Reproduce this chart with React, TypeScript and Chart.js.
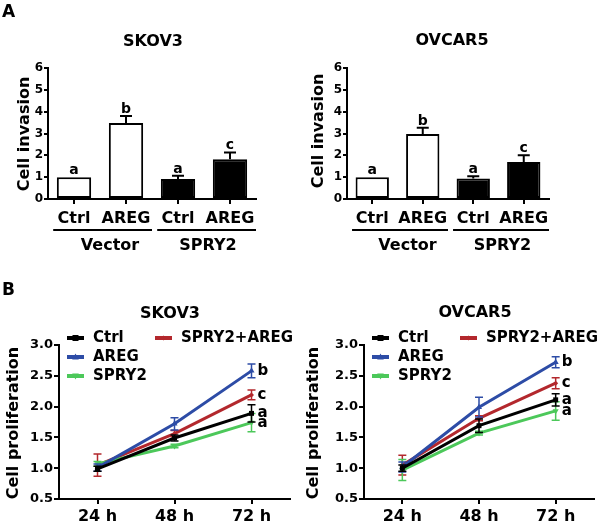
import React, { useEffect, useRef } from 'react';
import { Chart, registerables } from 'chart.js';
Chart.register(...registerables);

const FONT = '"DejaVu Sans", "Liberation Sans", sans-serif';

// ---------- Panel A: cell invasion ----------
const invasionCategories = ['Ctrl', 'AREG', 'Ctrl', 'AREG'];
const invasionGroups = ['Vector', 'SPRY2'];
const invasionMin = 0;
const invasionMax = 6;
const skov3Invasion = [1.0, 3.48, 0.92, 1.82];
const skov3InvasionErr = [0, 0.32, 0.15, 0.31];
const skov3InvasionSig = ['a', 'b', 'a', 'c'];
const ovcar5Invasion = [1.0, 2.98, 0.94, 1.7];
const ovcar5InvasionErr = [0, 0.28, 0.1, 0.3];
const ovcar5InvasionSig = ['a', 'b', 'a', 'c'];

// ---------- Panel B: cell proliferation ----------
const timeLabels = ['24 h', '48 h', '72 h'];
const seriesNames = ['Ctrl', 'AREG', 'SPRY2', 'SPRY2+AREG'];
const proliferationMin = 0.5;
const proliferationMax = 3.0;

const skov3Ctrl = [0.99, 1.49, 1.89];
const skov3Areg = [1.01, 1.72, 2.58];
const skov3Spry2 = [1.07, 1.36, 1.74];
const skov3Spry2Areg = [1.05, 1.56, 2.19];
const skov3CtrlErr = [0.04, 0.05, 0.14];
const skov3AregErr = [0.06, 0.1, 0.11];
const skov3Spry2Err = [0.04, 0.03, 0.15];
const skov3Spry2AregErr = [0.18, 0.05, 0.08];
const skov3ProlifSig = ['a', 'b', 'a', 'c'];

const ovcar5Ctrl = [1.0, 1.69, 2.11];
const ovcar5Areg = [1.02, 1.99, 2.72];
const ovcar5Spry2 = [0.97, 1.57, 1.93];
const ovcar5Spry2Areg = [1.05, 1.81, 2.38];
const ovcar5CtrlErr = [0.05, 0.11, 0.1];
const ovcar5AregErr = [0.08, 0.16, 0.09];
const ovcar5Spry2Err = [0.17, 0.03, 0.15];
const ovcar5Spry2AregErr = [0.16, 0.04, 0.09];
const ovcar5ProlifSig = ['a', 'b', 'a', 'c'];

const seriesColors = ['#000000', '#2d4ca6', '#4cc85a', '#b3282d'];
const seriesMarkers = ['rect', 'triangle', 'triangleDown', 'diamond'];

function drawText(ctx: any, s: string, x: number, y: number, font: string, align: string = 'center', base: string = 'middle', rot = 0) {
  ctx.save();
  ctx.font = font;
  ctx.fillStyle = '#000';
  ctx.textAlign = align;
  ctx.textBaseline = base;
  ctx.translate(x, y);
  if (rot) ctx.rotate(rot);
  ctx.fillText(s, 0, 0);
  ctx.restore();
}

function drawMarker(ctx: any, kind: string, x: number, y: number, r: number, color: string) {
  ctx.save();
  ctx.fillStyle = color;
  ctx.beginPath();
  if (kind === 'rect') {
    ctx.rect(x - r, y - r, 2 * r, 2 * r);
  } else if (kind === 'triangle') {
    ctx.moveTo(x, y - r * 1.2);
    ctx.lineTo(x + r * 1.1, y + r * 0.8);
    ctx.lineTo(x - r * 1.1, y + r * 0.8);
    ctx.closePath();
  } else if (kind === 'triangleDown') {
    ctx.moveTo(x, y + r * 1.2);
    ctx.lineTo(x + r * 1.1, y - r * 0.8);
    ctx.lineTo(x - r * 1.1, y - r * 0.8);
    ctx.closePath();
  } else {
    ctx.moveTo(x, y - r);
    ctx.lineTo(x + r, y);
    ctx.lineTo(x, y + r);
    ctx.lineTo(x - r, y);
    ctx.closePath();
  }
  ctx.fill();
  ctx.restore();
}

function barConfig(p: any) {
  const annot = {
    id: 'barAnnot',
    afterDatasetsDraw(chart: any) {
      const ctx = chart.ctx;
      const ys = chart.scales.y;
      const meta = chart.getDatasetMeta(0);
      ctx.save();
      ctx.strokeStyle = '#000';
      ctx.lineWidth = 2;
      meta.data.forEach((bar: any, i: number) => {
        const top = ys.getPixelForValue(p.values[i]);
        const errTop = ys.getPixelForValue(p.values[i] + p.errs[i]);
        if (p.errs[i] > 0) {
          ctx.beginPath();
          ctx.moveTo(bar.x, top);
          ctx.lineTo(bar.x, errTop);
          ctx.moveTo(bar.x - 6, errTop);
          ctx.lineTo(bar.x + 6, errTop);
          ctx.stroke();
        }
        drawText(ctx, p.sigs[i], bar.x, errTop - 3, `bold 14px ${FONT}`, 'center', 'alphabetic');
      });
      ctx.restore();
    },
    afterDraw(chart: any) {
      const ctx = chart.ctx;
      const meta = chart.getDatasetMeta(0);
      const cs = meta.data.map((b: any) => b.x);
      const s = cs[1] - cs[0];
      drawText(ctx, p.title, p.titleX, p.titleY, `bold 16px ${FONT}`);
      drawText(ctx, p.yLabel, p.yLabelX, p.yLabelY, `bold 16px ${FONT}`, 'center', 'middle', -Math.PI / 2);
      ctx.save();
      ctx.strokeStyle = '#000';
      ctx.lineWidth = 2;
      ctx.beginPath();
      ctx.moveTo(cs[0] - 0.4 * s, 230);
      ctx.lineTo(cs[1] + 0.5 * s, 230);
      ctx.moveTo(cs[2] - 0.4 * s, 230);
      ctx.lineTo(cs[3] + 0.5 * s, 230);
      ctx.stroke();
      ctx.restore();
      drawText(ctx, invasionGroups[0], (cs[0] + cs[1]) / 2 + 10, 245.5, `bold 16px ${FONT}`);
      drawText(ctx, invasionGroups[1], (cs[2] + cs[3]) / 2 + 4, 245.5, `bold 16px ${FONT}`);
      if (p.letter) drawText(ctx, p.letter, 2, 17, `bold 17px ${FONT}`, 'left', 'alphabetic');
    },
  };
  return {
    type: 'bar',
    data: {
      labels: invasionCategories,
      datasets: [
        {
          data: p.values,
          backgroundColor: ['#ffffff', '#ffffff', '#000000', '#000000'],
          borderColor: '#000',
          borderWidth: 2,
          borderSkipped: false,
          barPercentage: 0.66,
          categoryPercentage: 1,
        },
      ],
    },
    options: {
      animation: false,
      responsive: false,
      devicePixelRatio: 1,
      layout: { padding: { left: 0, right: p.padRight, top: 68, bottom: 0 } },
      plugins: { legend: { display: false }, tooltip: { enabled: false }, title: { display: false } },
      scales: {
        x: {
          offset: true,
          grid: { display: true, offset: false, drawOnChartArea: false, drawTicks: true, tickLength: 5, color: '#000', lineWidth: 2 },
          border: { display: true, color: '#000', width: 2 },
          ticks: { font: { family: FONT, weight: 'bold', size: 16 }, color: '#000', padding: 5, maxRotation: 0, autoSkip: false },
          afterFit: (sc: any) => { sc.height = 66; },
        },
        y: {
          min: invasionMin,
          max: invasionMax,
          ticks: { stepSize: 1, font: { family: FONT, weight: 'bold', size: 12 }, color: '#000', padding: 1 },
          grid: { display: true, drawOnChartArea: false, drawTicks: true, tickLength: 4, color: '#000', lineWidth: 2 },
          border: { display: true, color: '#000', width: 2 },
          afterFit: (sc: any) => { sc.width = p.yWidth; },
        },
      },
    },
    plugins: [annot],
  };
}

function lineConfig(p: any) {
  const annot = {
    id: 'lineAnnot',
    afterDatasetDraw(chart: any, args: any) {
      const ctx = chart.ctx;
      const ys = chart.scales.y;
      const d = args.index;
      const vals = p.series[d];
      const errs = p.errs[d];
      ctx.save();
      ctx.strokeStyle = seriesColors[d];
      ctx.lineWidth = 1.5;
      args.meta.data.forEach((pt: any, i: number) => {
        const yT = ys.getPixelForValue(vals[i] + errs[i]);
        const yB = ys.getPixelForValue(vals[i] - errs[i]);
        ctx.beginPath();
        ctx.moveTo(pt.x, yT);
        ctx.lineTo(pt.x, yB);
        ctx.moveTo(pt.x - 4, yT);
        ctx.lineTo(pt.x + 4, yT);
        ctx.moveTo(pt.x - 4, yB);
        ctx.lineTo(pt.x + 4, yB);
        ctx.stroke();
      });
      ctx.restore();
      const last = args.meta.data[args.meta.data.length - 1];
      drawText(ctx, p.sigs[d], last.x + 6, ys.getPixelForValue(vals[vals.length - 1]), `bold 15px ${FONT}`, 'left', 'middle');
    },
    afterDraw(chart: any) {
      const ctx = chart.ctx;
      const ca = chart.chartArea;
      drawText(ctx, p.title, p.titleX, p.titleY, `bold 16px ${FONT}`);
      drawText(ctx, 'Cell proliferation', p.yLabelX, p.yLabelY, `bold 16px ${FONT}`, 'center', 'middle', -Math.PI / 2);
      const rows = [ca.top - 7, ca.top + 12, ca.top + 31];
      const pos = [
        { x: ca.left + 8, y: rows[0] },
        { x: ca.left + 8, y: rows[1] },
        { x: ca.left + 8, y: rows[2] },
        { x: ca.left + 96, y: rows[0] },
      ];
      seriesNames.forEach((name, i) => {
        const { x, y } = pos[i];
        ctx.save();
        ctx.strokeStyle = seriesColors[i];
        ctx.lineWidth = 4;
        ctx.beginPath();
        ctx.moveTo(x, y);
        ctx.lineTo(x + 17, y);
        ctx.stroke();
        ctx.restore();
        drawMarker(ctx, seriesMarkers[i], x + 8.5, y, i === 3 ? 2.5 : 3, seriesColors[i]);
        drawText(ctx, name, x + 26, y, `bold 15px ${FONT}`, 'left', 'middle');
      });
      if (p.letter) drawText(ctx, p.letter, 2, 30, `bold 17px ${FONT}`, 'left', 'alphabetic');
    },
  };
  const pointStyles = ['rect', 'triangle', 'triangle', 'rectRot'];
  const rotations = [0, 0, 180, 0];
  return {
    type: 'line',
    data: {
      labels: timeLabels,
      datasets: p.series.map((vals: number[], i: number) => ({
        label: seriesNames[i],
        data: vals,
        borderColor: seriesColors[i],
        backgroundColor: seriesColors[i],
        borderWidth: 3,
        pointStyle: pointStyles[i],
        rotation: rotations[i],
        pointRadius: i === 3 ? 2.5 : 3.5,
        pointBorderWidth: 0,
        tension: 0,
        fill: false,
      })),
    },
    options: {
      animation: false,
      responsive: false,
      devicePixelRatio: 1,
      layout: { padding: { left: 0, right: p.padRight, top: 80, bottom: 0 } },
      plugins: { legend: { display: false }, tooltip: { enabled: false }, title: { display: false } },
      scales: {
        x: {
          offset: true,
          grid: { display: true, offset: false, drawOnChartArea: false, drawTicks: true, tickLength: 5, color: '#000', lineWidth: 2 },
          border: { display: true, color: '#000', width: 2 },
          ticks: { font: { family: FONT, weight: 'bold', size: 16 }, color: '#000', padding: 3, maxRotation: 0, autoSkip: false },
          afterFit: (sc: any) => { sc.height = 28; },
        },
        y: {
          min: proliferationMin,
          max: proliferationMax,
          ticks: {
            stepSize: 0.5,
            font: { family: FONT, weight: 'bold', size: 13 },
            color: '#000',
            padding: 1,
            callback: (v: any) => Number(v).toFixed(1),
          },
          grid: { display: true, drawOnChartArea: false, drawTicks: true, tickLength: 5, color: '#000', lineWidth: 2 },
          border: { display: true, color: '#000', width: 2 },
          afterFit: (sc: any) => { sc.width = p.yWidth; },
        },
      },
    },
    plugins: [annot],
  };
}

function ChartBox({ left, top, width, height, config }: any) {
  const ref = useRef<HTMLCanvasElement | null>(null);
  useEffect(() => {
    const chart = new Chart(ref.current as any, config as any);
    return () => chart.destroy();
  }, []);
  return (
    <canvas
      ref={ref}
      width={width}
      height={height}
      style={{ position: 'absolute', left, top, width, height, display: 'block' }}
    />
  );
}

export default function App() {
  const aLeft = barConfig({
    values: skov3Invasion, errs: skov3InvasionErr, sigs: skov3InvasionSig,
    title: 'SKOV3', titleX: 153, titleY: 42, yLabel: 'Cell invasion', yLabelX: 25, yLabelY: 134,
    yWidth: 48, padRight: 44, letter: 'A',
  });
  const aRight = barConfig({
    values: ovcar5Invasion, errs: ovcar5InvasionErr, sigs: ovcar5InvasionSig,
    title: 'OVCAR5', titleX: 152, titleY: 41, yLabel: 'Cell invasion', yLabelX: 19, yLabelY: 131,
    yWidth: 47, padRight: 51,
  });
  const bLeft = lineConfig({
    series: [skov3Ctrl, skov3Areg, skov3Spry2, skov3Spry2Areg],
    errs: [skov3CtrlErr, skov3AregErr, skov3Spry2Err, skov3Spry2AregErr],
    sigs: skov3ProlifSig,
    title: 'SKOV3', titleX: 170, titleY: 49, yLabelX: 14, yLabelY: 158,
    yWidth: 59, padRight: 10, letter: 'B',
  });
  const bRight = lineConfig({
    series: [ovcar5Ctrl, ovcar5Areg, ovcar5Spry2, ovcar5Spry2Areg],
    errs: [ovcar5CtrlErr, ovcar5AregErr, ovcar5Spry2Err, ovcar5Spry2AregErr],
    sigs: ovcar5ProlifSig,
    title: 'OVCAR5', titleX: 175, titleY: 48, yLabelX: 14, yLabelY: 158,
    yWidth: 64, padRight: 6,
  });
  return (
    <div style={{ position: 'absolute', left: 0, top: 0, width: 600, height: 527, background: '#fff', overflow: 'hidden' }}>
      <ChartBox left={0} top={0} width={300} height={265} config={aLeft} />
      <ChartBox left={300} top={0} width={300} height={265} config={aRight} />
      <ChartBox left={0} top={265} width={300} height={262} config={bLeft} />
      <ChartBox left={300} top={265} width={300} height={262} config={bRight} />
    </div>
  );
}
